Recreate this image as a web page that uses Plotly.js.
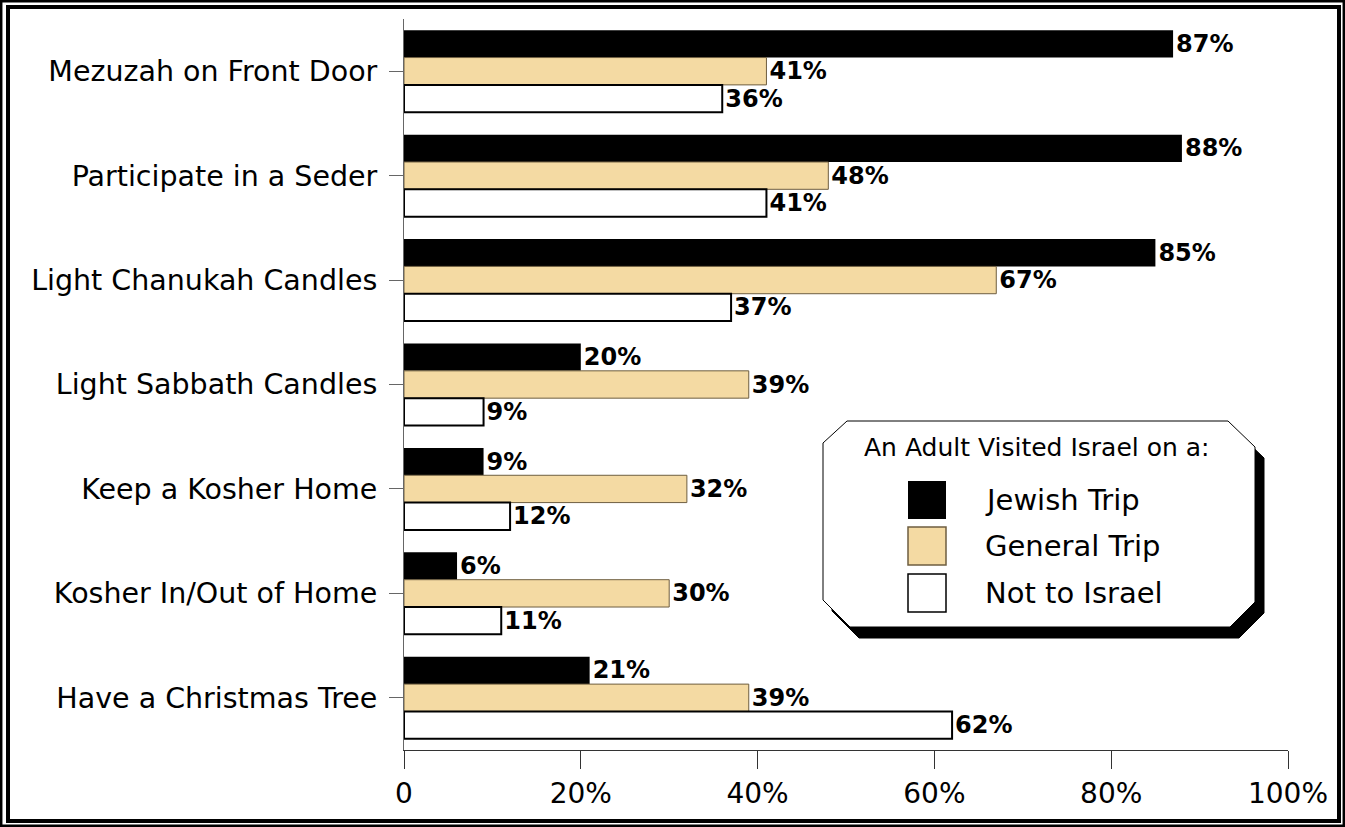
<!DOCTYPE html>
<html>
<head>
<meta charset="utf-8">
<script src="https://cdn.plot.ly/plotly-3.0.1.min.js"></script>
<style>html,body{margin:0;padding:0;background:#fff;}#chart{width:1345px;height:827px;}</style>
</head>
<body>
<div id="chart"></div>
<script>
var categories = ["Mezuzah on Front Door", "Participate in a Seder", "Light Chanukah Candles", "Light Sabbath Candles", "Keep a Kosher Home", "Kosher In/Out of Home", "Have a Christmas Tree"];
var seriesNames = ["Jewish Trip", "General Trip", "Not to Israel"];
var jewishTrip = [87, 88, 85, 20, 9, 6, 21];
var generalTrip = [41, 48, 67, 39, 32, 30, 39];
var notToIsrael = [36, 41, 37, 9, 12, 11, 62];
var xTickVals = [0, 20, 40, 60, 80, 100];
var xTickText = ["0", "20%", "40%", "60%", "80%", "100%"];
var legendTitle = "An Adult Visited Israel on a:";

var fills = ["#000000", "#F4DAA3", "#FFFFFF"];
var outlines = ["#000000", "#6E5E40", "#000000"];
var outlineW = [0, 1, 2];
var FONT = "DejaVu Sans, Liberation Sans, Arial, sans-serif";

var W = 1345, H = 827, L = 404, R = 57, T = 19, B = 77;
var PW = W - L - R, PH = H - T - B;
function px(x){ return (x - L) / PW; }
function py(y){ return (H - B - y) / PH; }

var vals = [jewishTrip, generalTrip, notToIsrael];
var traces = vals.map(function(v, i){
  return {
    type: "bar", orientation: "h", name: seriesNames[i],
    y: categories, x: v,
    text: v.map(function(d){ return d + "%"; }),
    textposition: "outside", cliponaxis: false, constraintext: "none",
    textfont: {family: FONT, size: 24, color: "#000", weight: "bold"},
    marker: {color: fills[i], line: {color: outlines[i], width: outlineW[i]}},
    hoverinfo: "none", showlegend: false
  };
});

function rectPath(x0, y0, x1, y1){
  return "M" + px(x0) + "," + py(y0) + " L" + px(x1) + "," + py(y0) + " L" + px(x1) + "," + py(y1) + " L" + px(x0) + "," + py(y1) + " Z";
}
function octPath(dx, dy){
  var pts = [[823,443],[847,421],[1228,421],[1255,447],[1255,602],[1230,627],[850,627],[823,600]];
  return pts.map(function(p, k){ return (k ? "L" : "M") + px(p[0] + dx) + "," + py(p[1] + dy); }).join(" ") + " Z";
}

var shapes = [
  {type: "path", xref: "paper", yref: "paper", path: rectPath(1.2, 1.2, 1343.8, 825.8), line: {color: "#000", width: 2.5}, fillcolor: "rgba(0,0,0,0)"},
  {type: "path", xref: "paper", yref: "paper", path: rectPath(8, 7, 1339, 821), line: {color: "#000", width: 4}, fillcolor: "rgba(0,0,0,0)"},
  {type: "path", xref: "paper", yref: "paper", path: octPath(9, 11), line: {color: "#000", width: 1}, fillcolor: "#000"},
  {type: "path", xref: "paper", yref: "paper", path: octPath(0, 0), line: {color: "#000", width: 1}, fillcolor: "#fff"}
];
var annotations = [
  {xref: "paper", yref: "paper", x: px(1037), y: py(447), text: legendTitle, showarrow: false, xanchor: "center", yanchor: "middle", font: {family: FONT, size: 25, color: "#000"}}
];
var swTop = [481, 527, 574];
seriesNames.forEach(function(n, i){
  shapes.push({type: "path", xref: "paper", yref: "paper", path: rectPath(908, swTop[i], 946, swTop[i] + 38), line: {color: outlines[i], width: i === 0 ? 0 : 1.5}, fillcolor: fills[i]});
  annotations.push({xref: "paper", yref: "paper", x: px(983), y: py(swTop[i] + 19), text: n, showarrow: false, xanchor: "left", yanchor: "middle", font: {family: FONT, size: 29, color: "#000"}});
});

var layout = {
  width: W, height: H,
  margin: {l: L, r: R, t: T, b: B, pad: 0},
  paper_bgcolor: "#fff", plot_bgcolor: "#fff",
  barmode: "group", bargap: 0.215, bargroupgap: 0,
  showlegend: false,
  font: {family: FONT, color: "#000"},
  xaxis: {
    range: [0, 100], tickvals: xTickVals, ticktext: xTickText,
    showgrid: false, zeroline: false, showline: true, linecolor: "#333", linewidth: 1,
    ticks: "outside", ticklen: 18, tickcolor: "#333", tickwidth: 1,
    tickfont: {family: FONT, size: 28, color: "#000"}, fixedrange: true
  },
  yaxis: {
    type: "category", autorange: "reversed",
    showgrid: false, zeroline: false, showline: true, linecolor: "#666", linewidth: 1,
    ticks: "outside", ticklen: 14, tickcolor: "#666", tickwidth: 1,
    tickfont: {family: FONT, size: 28.5, color: "#000"}, ticklabelstandoff: 6, fixedrange: true
  },
  shapes: shapes,
  annotations: annotations
};

Plotly.newPlot("chart", traces, layout, {displayModeBar: false, staticPlot: true});
</script>
</body>
</html>
